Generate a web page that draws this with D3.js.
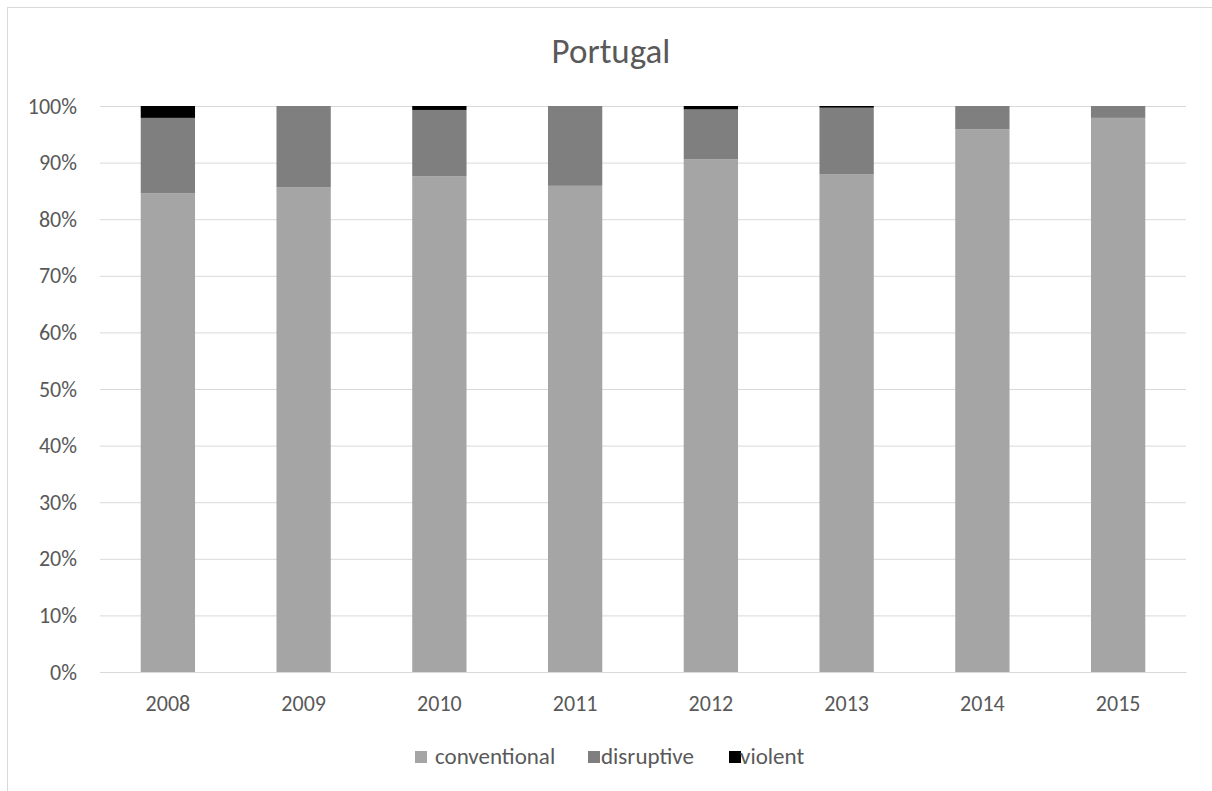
<!DOCTYPE html>
<html><head><meta charset="utf-8">
<script src="https://cdn.jsdelivr.net/npm/d3@7"></script>
<style>body{margin:0;background:#fff}svg{display:block}text{font-family:Carlito,Lato,"Open Sans",sans-serif;fill:#595959}</style>
</head><body>
<script>
const years = ["2008","2009","2010","2011","2012","2013","2014","2015"];
const conventional = [84.6,85.6,87.6,85.9,90.6,87.9,95.9,97.9];
const disruptive = [13.3,14.4,11.7,14.1,8.8,11.8,4.1,2.1];
const violent = [2.1,0,0.7,0,0.6,0.3,0,0];
const seriesNames = ["conventional","disruptive","violent"];
const seriesColors = ["#a5a5a5","#7f7f7f","#000000"];
const yTicks = [0,10,20,30,40,50,60,70,80,90,100];

const W=1212,H=791;
const FF="Carlito,Lato,'Open Sans',sans-serif";
const svg=d3.select("body").append("svg").attr("width",W).attr("height",H);
svg.append("rect").attr("x",7.5).attr("y",7.5).attr("width",W).attr("height",H).attr("fill","#fff").attr("stroke","#d9d9d9");

const x=d3.scaleBand().domain(years).range([100,1186]).paddingInner(0.6).paddingOuter(0.3);
const y=d3.scaleLinear().domain([0,100]).range([672,106]);

svg.append("text").attr("x",611).attr("y",63).attr("text-anchor","middle").attr("font-size",35).text("Portugal");

const yAxis=d3.axisLeft(y).tickValues(yTicks).tickFormat(d=>d+"%").tickSize(-(1186-100)).tickPadding(23);
const ga=svg.append("g").attr("transform","translate(100,0)").call(yAxis);
ga.select(".domain").remove();
ga.selectAll(".tick line").attr("stroke","#d9d9d9").attr("stroke-width",1);
ga.selectAll(".tick text").attr("font-size",22).attr("fill","#595959").style("font-family",FF);

const data=years.map((yr,i)=>({year:yr,conventional:conventional[i],disruptive:disruptive[i],violent:violent[i]}));
const stack=d3.stack().keys(seriesNames)(data);
stack.forEach((s,si)=>{
  svg.append("g").attr("fill",seriesColors[si]).selectAll("rect").data(s).join("rect")
    .attr("x",d=>x(d.data.year)).attr("width",x.bandwidth())
    .attr("y",d=>y(d[1])).attr("height",d=>y(d[0])-y(d[1]));
});

const xAxis=d3.axisBottom(x).tickSize(0).tickPadding(23);
const gx=svg.append("g").attr("transform","translate(0,672)").call(xAxis);
gx.select(".domain").attr("stroke","#d9d9d9");
gx.selectAll(".tick text").attr("font-size",22).attr("fill","#595959").style("font-family",FF);

const legSq=[415,588,729];
const legTx=[435,601,740];
const leg=svg.append("g");
seriesNames.forEach((n,i)=>{
  leg.append("rect").attr("x",legSq[i]).attr("y",751).attr("width",12).attr("height",12).attr("fill",seriesColors[i]);
  leg.append("text").attr("x",legTx[i]).attr("y",764).attr("font-size",23).text(n);
});
</script>
</body></html>
